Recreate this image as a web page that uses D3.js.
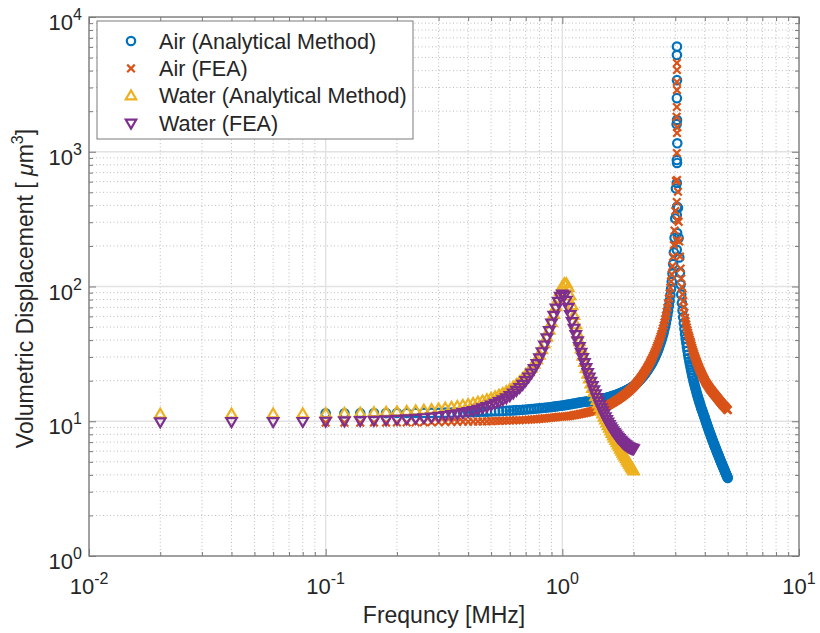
<!DOCTYPE html>
<html>
<head>
<meta charset="utf-8">
<script src="https://cdn.jsdelivr.net/npm/d3@7"></script>
<style>
  body { margin: 0; background: #fff; }
  svg { display: block; font-family: "Liberation Sans", Arial, Helvetica, sans-serif; }
</style>
</head>
<body>
<div id="chart"></div>
<script>
// ===================================
// DATA
// ===================================

// Water sweep: 0.02 .. 2.00 MHz
const waterFreq = [
  0.02,0.04,0.06,0.08,0.10,0.12,0.14,0.16,0.18,0.20,
  0.22,0.24,0.26,0.28,0.30,0.32,0.34,0.36,0.38,0.40,
  0.42,0.44,0.46,0.48,0.50,0.52,0.54,0.56,0.58,0.60,
  0.62,0.64,0.66,0.68,0.70,0.72,0.74,0.76,0.78,0.80,
  0.82,0.84,0.86,0.88,0.90,0.92,0.94,0.96,0.98,1.00,
  1.02,1.04,1.06,1.08,1.10,1.12,1.14,1.16,1.18,1.20,
  1.22,1.24,1.26,1.28,1.30,1.32,1.34,1.36,1.38,1.40,
  1.42,1.44,1.46,1.48,1.50,1.52,1.54,1.56,1.58,1.60,
  1.62,1.64,1.66,1.68,1.70,1.72,1.74,1.76,1.78,1.80,
  1.82,1.84,1.86,1.88,1.90,1.92,1.94,1.96,1.98,2.00
];

const waterAnalytical = [
  11.30,11.32,11.34,11.37,11.41,11.46,11.51,11.58,11.66,11.75,
  11.84,11.95,12.08,12.21,12.36,12.52,12.69,12.89,13.10,13.33,
  13.57,13.85,14.14,14.47,14.82,15.21,15.63,16.10,16.61,17.20,
  17.90,18.70,19.60,20.70,22.0,23.3,24.8,26.5,28.5,31.0,
  34.0,37.5,42.0,47.5,54.0,62.0,71.0,81.0,92.0,100.0,
  105,105,98,85,72,61,52,44.5,39.0,34.5,
  30.4,27.3,24.6,22.4,20.6,18.96,17.56,16.34,15.25,14.3,
  13.43,12.65,11.95,11.32,10.74,10.22,9.73,9.29,8.87,8.48,
  8.13,7.80,7.49,7.20,6.93,6.68,6.44,6.22,6.00,5.80,
  5.61,5.44,5.27,5.10,4.95,4.80,4.67,4.53,4.41,4.29
];

const waterFea = [
  9.90,9.92,9.94,9.96,10.00,10.05,10.10,10.16,10.23,10.31,
  10.40,10.51,10.62,10.74,10.88,11.03,11.19,11.37,11.57,11.79,
  12.02,12.28,12.56,12.87,13.20,13.57,13.97,14.42,14.92,15.50,
  16.20,16.95,17.80,18.80,20.0,21.3,22.8,24.6,26.8,29.5,
  32.8,36.8,41.5,47.0,53.5,61.0,69.0,77.5,84.5,88.0,
  86,79,70,62,55,49,44,39.5,35.8,32.5,
  29.7,27.2,25.0,23.0,21.3,19.8,18.4,17.1,16.0,15.0,
  14.1,13.3,12.6,11.95,11.35,10.8,10.3,9.85,9.45,9.1,
  8.8,8.5,8.25,8.02,7.8,7.6,7.42,7.26,7.11,6.97,
  6.85,6.74,6.64,6.55,6.47,6.41,6.36,6.32,6.28,6.25
];

// Air sweep: 0.10 .. 5.00 MHz
const airFreq = [
  0.10,0.12,0.14,0.16,0.18,0.20,0.22,0.24,0.26,0.28,
  0.30,0.32,0.34,0.36,0.38,0.40,0.42,0.44,0.46,0.48,
  0.50,0.52,0.54,0.56,0.58,0.60,0.62,0.64,0.66,0.68,
  0.70,0.72,0.74,0.76,0.78,0.80,0.82,0.84,0.86,0.88,
  0.90,0.92,0.94,0.96,0.98,1.00,1.02,1.04,1.06,1.08,
  1.10,1.12,1.14,1.16,1.18,1.20,1.22,1.24,1.26,1.28,
  1.30,1.32,1.34,1.36,1.38,1.40,1.42,1.44,1.46,1.48,
  1.50,1.52,1.54,1.56,1.58,1.60,1.62,1.64,1.66,1.68,
  1.70,1.72,1.74,1.76,1.78,1.80,1.82,1.84,1.86,1.88,
  1.90,1.92,1.94,1.96,1.98,2.00,2.02,2.04,2.06,2.08,
  2.10,2.12,2.14,2.16,2.18,2.20,2.22,2.24,2.26,2.28,
  2.30,2.32,2.34,2.36,2.38,2.40,2.42,2.44,2.46,2.48,
  2.50,2.52,2.54,2.56,2.58,2.60,2.62,2.64,2.66,2.68,
  2.70,2.72,2.74,2.76,2.78,2.80,2.82,2.84,2.86,2.88,
  2.90,2.92,2.94,2.96,2.98,3.00,3.02,3.04,3.06,3.08,
  3.10,3.12,3.14,3.16,3.18,3.20,3.22,3.24,3.26,3.28,
  3.30,3.32,3.34,3.36,3.38,3.40,3.42,3.44,3.46,3.48,
  3.50,3.52,3.54,3.56,3.58,3.60,3.62,3.64,3.66,3.68,
  3.70,3.72,3.74,3.76,3.78,3.80,3.82,3.84,3.86,3.88,
  3.90,3.92,3.94,3.96,3.98,4.00,4.02,4.04,4.06,4.08,
  4.10,4.12,4.14,4.16,4.18,4.20,4.22,4.24,4.26,4.28,
  4.30,4.32,4.34,4.36,4.38,4.40,4.42,4.44,4.46,4.48,
  4.50,4.52,4.54,4.56,4.58,4.60,4.62,4.64,4.66,4.68,
  4.70,4.72,4.74,4.76,4.78,4.80,4.82,4.84,4.86,4.88,
  4.90,4.92,4.94,4.96,4.98,5.00
];

const airAnalytical = [
  11.46,11.47,11.48,11.49,11.49,11.50,11.51,11.52,11.53,11.54,
  11.56,11.58,11.60,11.62,11.64,11.66,11.69,11.72,11.75,11.78,
  11.82,11.85,11.88,11.92,11.96,12.00,12.04,12.09,12.13,12.18,
  12.23,12.28,12.34,12.38,12.44,12.49,12.54,12.60,12.65,12.71,
  12.76,12.83,12.90,12.96,13.02,13.08,13.15,13.22,13.29,13.36,
  13.46,13.53,13.60,13.68,13.76,13.84,13.89,13.94,13.99,14.05,
  14.10,14.16,14.21,14.28,14.34,14.42,14.48,14.56,14.63,14.72,
  14.79,14.88,14.96,15.06,15.15,15.25,15.35,15.46,15.56,15.68,
  15.80,15.92,16.05,16.17,16.31,16.46,16.60,16.76,16.92,17.10,
  17.26,17.44,17.63,17.84,18.02,18.24,18.52,18.82,19.13,19.45,
  19.77,20.12,20.48,20.86,21.27,21.68,22.12,22.58,23.07,23.58,
  24.12,24.69,25.28,25.92,26.59,27.31,28.08,28.89,29.75,30.70,
  31.69,32.78,33.94,35.19,36.57,38.10,39.69,41.46,43.44,45.64,
  48.08,50.80,53.91,57.43,61.46,66.15,71.68,78.25,86.16,95.94,
  108.5,124.7,146.8,179.0,229.6,320.0,533.5,1602,1155,383.8,
  229.5,164.2,126.9,103.4,87.2,75.4,66.3,59.1,53.4,48.6,
  44.5,41.1,38.2,35.6,33.3,31.3,29.5,27.9,26.5,25.2,
  24.0,22.9,21.9,21.0,20.1,19.3,18.6,17.9,17.3,16.7,
  16.1,15.6,15.1,14.6,14.2,13.8,13.4,13.0,12.6,12.3,
  12.0,11.7,11.4,11.1,10.8,10.6,10.28,10.0,9.75,9.50,
  9.27,9.04,8.82,8.62,8.41,8.21,8.03,7.84,7.67,7.49,
  7.33,7.18,7.02,6.87,6.72,6.59,6.45,6.32,6.19,6.07,
  5.95,5.83,5.72,5.61,5.50,5.40,5.30,5.20,5.10,5.01,
  4.92,4.83,4.74,4.66,4.57,4.50,4.42,4.34,4.27,4.19,
  4.12,4.06,3.98,3.92,3.85,3.79
];

const airFea = [
  9.76,9.77,9.77,9.78,9.78,9.79,9.80,9.81,9.82,9.83,
  9.85,9.86,9.88,9.89,9.91,9.92,9.94,9.95,9.97,9.99,
  10.02,10.04,10.06,10.09,10.12,10.14,10.15,10.17,10.19,10.21,
  10.24,10.27,10.31,10.34,10.38,10.42,10.46,10.50,10.53,10.58,
  10.62,10.67,10.72,10.77,10.80,10.83,10.85,10.87,10.92,10.97,
  11.04,11.10,11.16,11.22,11.29,11.36,11.42,11.50,11.58,11.65,
  11.73,11.81,11.89,11.98,12.07,12.16,12.26,12.36,12.45,12.56,
  12.66,12.81,12.96,13.11,13.28,13.44,13.61,13.78,13.96,14.15,
  14.34,14.53,14.74,14.94,15.15,15.37,15.61,15.85,16.08,16.34,
  16.60,16.87,17.16,17.45,17.75,18.07,18.43,18.82,19.20,19.62,
  20.04,20.49,20.95,21.42,21.94,22.48,23.04,23.62,24.22,24.87,
  25.56,26.28,27.03,27.81,28.66,29.57,30.54,31.56,32.62,33.80,
  35.04,36.31,37.66,39.12,40.72,42.49,44.34,46.41,48.70,51.25,
  54.09,57.25,60.86,64.94,69.62,75.06,81.33,88.78,97.76,108.9,
  123.1,141.5,166.6,203.1,260.5,363.1,605.3,1817,1520,505,
  302,216,167,136,114.8,99.2,87.3,77.8,70.2,63.9,
  58.6,55.2,52.2,49.6,47.3,45.3,43.5,41.9,40.4,39.1,
  37.9,36.5,35.1,33.9,32.8,31.8,30.8,29.9,29.1,28.3,
  27.6,26.9,26.2,25.6,25.0,24.4,23.9,23.4,22.9,22.5,
  22.0,21.6,21.2,20.8,20.5,20.2,19.7,19.4,19.2,18.9,
  18.7,18.4,18.2,18.0,17.8,17.5,17.3,17.1,17.0,16.8,
  16.6,16.4,16.2,16.1,15.9,15.8,15.6,15.5,15.3,15.2,
  15.0,14.9,14.7,14.6,14.45,14.3,14.2,14.0,13.9,13.8,
  13.7,13.5,13.4,13.3,13.2,13.1,13.0,12.9,12.8,12.7,
  12.6,12.5,12.4,12.3,12.2,12.1
];

// Extra points of the fine sweep right at the air resonance (the vertical column)
const airPeakFreq = [3.050,3.049,3.051,3.048,3.052,3.047,3.053,3.046,3.054,3.045,3.055,3.044];
const airAnalyticalPeak = [6030,5220,3400,2500,1720,868,826,587,390,340,249,187];
const airFeaPeakFreq = [3.049,3.050,3.048,3.051,3.047,3.052,3.046,3.053,3.045,3.054,3.044];
const airFeaPeak = [4560,4045,3295,2870,2148,1377,979,617,424,312,221];

// Series labels, colours and marker shapes (MATLAB default order)
const seriesNames = ["Air (Analytical Method)", "Air (FEA)", "Water (Analytical Method)", "Water (FEA)"];
const seriesColors = ["#0072BD", "#D95319", "#EDB120", "#7E2F8E"];
const seriesMarkers = ["circle", "cross", "triUp", "triDown"];

// Axis ticks
const xTicks = [0.01, 0.1, 1, 10];
const xTickExp = ["-2", "-1", "0", "1"];
const yTicks = [1, 10, 100, 1000, 10000];
const yTickExp = ["0", "1", "2", "3", "4"];

// ===================================
// CHART SETUP
// ===================================
const W = 820, H = 633;
const margin = { top: 17, right: 21, bottom: 77, left: 89 };
const width = W - margin.left - margin.right;
const height = H - margin.top - margin.bottom;

const svg = d3.select("#chart").append("svg")
    .attr("width", W)
    .attr("height", H);

const g = svg.append("g")
    .attr("transform", `translate(${margin.left},${margin.top})`);

const x = d3.scaleLog().domain([0.01, 10]).range([0, width]);
const y = d3.scaleLog().domain([1, 10000]).range([height, 0]);

const isDecade = v => Math.abs(Math.log10(v) - Math.round(Math.log10(v))) < 1e-9;
const minorX = x.ticks().filter(v => !isDecade(v));
const minorY = y.ticks().filter(v => !isDecade(v));

const axisColor = "#7a7a7a";
const textColor = "#262626";

// ===================================
// GRID
// ===================================
const grid = g.append("g").attr("class", "grid");

grid.selectAll(".mx").data(minorX).join("line")
    .attr("x1", d => x(d)).attr("x2", d => x(d))
    .attr("y1", 0).attr("y2", height)
    .attr("stroke", "#bdbdbd").attr("stroke-width", 1)
    .attr("stroke-dasharray", "1,2.5");

grid.selectAll(".my").data(minorY).join("line")
    .attr("x1", 0).attr("x2", width)
    .attr("y1", d => y(d)).attr("y2", d => y(d))
    .attr("stroke", "#bdbdbd").attr("stroke-width", 1)
    .attr("stroke-dasharray", "1,2.5");

grid.append("g").selectAll("line").data(xTicks).join("line")
    .attr("x1", d => x(d)).attr("x2", d => x(d))
    .attr("y1", 0).attr("y2", height)
    .attr("stroke", "#e2e2e2").attr("stroke-width", 1.4);

grid.append("g").selectAll("line").data(yTicks).join("line")
    .attr("x1", 0).attr("x2", width)
    .attr("y1", d => y(d)).attr("y2", d => y(d))
    .attr("stroke", "#e2e2e2").attr("stroke-width", 1.4);

// ===================================
// AXES (inward ticks on all four sides, MATLAB box style)
// ===================================
function styleAxis(sel) {
    sel.select(".domain").remove();
    sel.selectAll("line").attr("stroke", axisColor).attr("stroke-width", 1);
    sel.selectAll("text").remove();
}

g.append("g").attr("transform", `translate(0,${height})`)
    .call(d3.axisBottom(x).tickValues(xTicks).tickSize(-7)).call(styleAxis);
g.append("g").attr("transform", `translate(0,${height})`)
    .call(d3.axisBottom(x).tickValues(minorX).tickSize(-4)).call(styleAxis);
g.append("g")
    .call(d3.axisTop(x).tickValues(xTicks).tickSize(-7)).call(styleAxis);
g.append("g")
    .call(d3.axisTop(x).tickValues(minorX).tickSize(-4)).call(styleAxis);
g.append("g")
    .call(d3.axisLeft(y).tickValues(yTicks).tickSize(-7)).call(styleAxis);
g.append("g")
    .call(d3.axisLeft(y).tickValues(minorY).tickSize(-4)).call(styleAxis);
g.append("g").attr("transform", `translate(${width},0)`)
    .call(d3.axisRight(y).tickValues(yTicks).tickSize(-7)).call(styleAxis);
g.append("g").attr("transform", `translate(${width},0)`)
    .call(d3.axisRight(y).tickValues(minorY).tickSize(-4)).call(styleAxis);

g.append("rect")
    .attr("width", width).attr("height", height)
    .attr("fill", "none").attr("stroke", axisColor).attr("stroke-width", 1.3);

// Tick labels as 10^n
const xLab = g.append("g").selectAll("text").data(xTicks).join("text")
    .attr("x", d => x(d)).attr("y", height + 38)
    .attr("text-anchor", "middle")
    .attr("fill", textColor).attr("font-size", 22)
    .text("10");
xLab.append("tspan").attr("dy", -10).attr("font-size", 16)
    .text((d, i) => xTickExp[i]);

const yLab = g.append("g").selectAll("text").data(yTicks).join("text")
    .attr("x", -7).attr("y", d => y(d) + 13)
    .attr("text-anchor", "end")
    .attr("fill", textColor).attr("font-size", 22)
    .text("10");
yLab.append("tspan").attr("dy", -10).attr("font-size", 16)
    .text((d, i) => yTickExp[i]);

// Axis titles
g.append("text")
    .attr("x", width / 2).attr("y", height + 67)
    .attr("text-anchor", "middle")
    .attr("fill", textColor).attr("font-size", 23)
    .text("Frequncy [MHz]");

const yTitle = g.append("text")
    .attr("transform", `translate(${-56},${height / 2 + 2}) rotate(-90)`)
    .attr("text-anchor", "middle")
    .attr("fill", textColor).attr("font-size", 23);
yTitle.append("tspan").text("Volumetric Displacement [ ");
yTitle.append("tspan").attr("font-style", "italic").text("\u03bc");
yTitle.append("tspan").text("m");
yTitle.append("tspan").attr("dy", -10).attr("font-size", 16).text("3");
yTitle.append("tspan").attr("dy", 10).text("]");

// ===================================
// MARKERS
// ===================================
const markerPath = {
    circle: "M4.2,0A4.2,4.2 0 1,1 -4.2,0A4.2,4.2 0 1,1 4.2,0Z",
    cross: "M-3.8,-3.8L3.8,3.8M-3.8,3.8L3.8,-3.8",
    triUp: "M0,-5.4L5.2,3.5L-5.2,3.5Z",
    triDown: "M0,5.4L5.2,-3.5L-5.2,-3.5Z"
};

const seriesData = [
    airFreq.map((f, i) => ({ f, v: airAnalytical[i] }))
        .concat(airPeakFreq.map((f, i) => ({ f, v: airAnalyticalPeak[i] }))),
    airFreq.map((f, i) => ({ f, v: airFea[i] }))
        .concat(airFeaPeakFreq.map((f, i) => ({ f, v: airFeaPeak[i] }))),
    waterFreq.map((f, i) => ({ f, v: waterAnalytical[i] })),
    waterFreq.map((f, i) => ({ f, v: waterFea[i] }))
];

const plot = g.append("g").attr("class", "series");
seriesData.forEach((pts, s) => {
    plot.append("g").selectAll("path").data(pts).join("path")
        .attr("transform", d => `translate(${x(d.f)},${y(d.v)})`)
        .attr("d", markerPath[seriesMarkers[s]])
        .attr("fill", "none")
        .attr("stroke", seriesColors[s])
        .attr("stroke-width", 2.2);
});

// ===================================
// LEGEND
// ===================================
const legend = svg.append("g").attr("transform", "translate(97,21)");
legend.append("rect")
    .attr("width", 316).attr("height", 118)
    .attr("fill", "#fff").attr("stroke", axisColor).attr("stroke-width", 1);

const items = legend.selectAll(".item").data(seriesNames).join("g")
    .attr("class", "item")
    .attr("transform", (d, i) => `translate(0,${20 + i * 27.4})`);

items.append("path")
    .attr("transform", "translate(34,0)")
    .attr("d", (d, i) => markerPath[seriesMarkers[i]])
    .attr("fill", "none")
    .attr("stroke", (d, i) => seriesColors[i])
    .attr("stroke-width", 2.2);

items.append("text")
    .attr("x", 62).attr("y", 7.5)
    .attr("fill", textColor).attr("font-size", 21.6)
    .text(d => d);
</script>
</body>
</html>
